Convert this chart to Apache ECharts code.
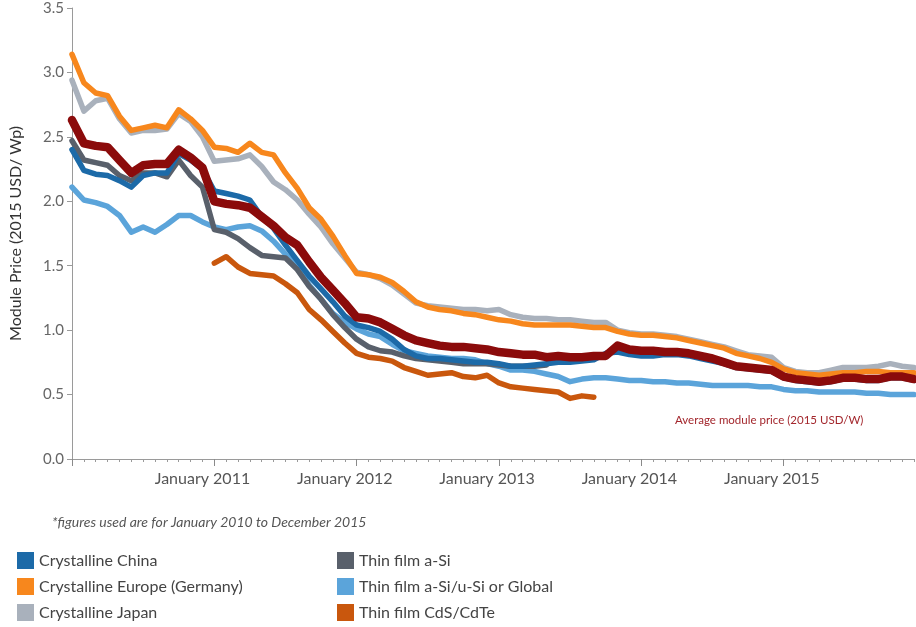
<!DOCTYPE html>
<html>
<head>
<meta charset="utf-8">
<script src="https://cdn.jsdelivr.net/npm/echarts@6/dist/echarts.min.js"></script>
<style>
  html, body { margin: 0; padding: 0; background: #fff; }
  #chart { width: 916px; height: 627px; }
</style>
</head>
<body>
<div id="chart"></div>
<script>
// months Jan 2010 .. Dec 2015
const years = [2010, 2011, 2012, 2013, 2014, 2015];
const months = [];
years.forEach((y) => {
  for (let m = 1; m <= 12; m++) months.push(y + "-" + (m < 10 ? "0" + m : m));
});

const china = [2.40, 2.24, 2.21, 2.20, 2.16, 2.11, 2.20, 2.22, 2.22, 2.37, 2.32, 2.25,
  2.08, 2.06, 2.04, 2.01, 1.88, 1.79, 1.66, 1.54, 1.42, 1.32, 1.22, 1.11,
  1.04, 1.02, 0.99, 0.93, 0.85, 0.80, 0.78, 0.78, 0.77, 0.76, 0.75, 0.75,
  0.74, 0.72, 0.72, 0.73, 0.74, 0.75, 0.75, 0.76, 0.77, 0.82, 0.83, 0.81,
  0.80, 0.80, 0.81, 0.81, 0.80, 0.78, 0.76, 0.74, 0.71, 0.70, 0.69, 0.68,
  0.63, 0.61, 0.60, 0.59, 0.60, 0.62, 0.62, 0.61, 0.61, 0.63, 0.63, 0.61];

const europe = [3.14, 2.92, 2.84, 2.82, 2.66, 2.55, 2.57, 2.59, 2.57, 2.71, 2.64, 2.55,
  2.42, 2.41, 2.38, 2.45, 2.38, 2.36, 2.22, 2.10, 1.95, 1.86, 1.73, 1.58,
  1.44, 1.43, 1.41, 1.37, 1.30, 1.22, 1.18, 1.16, 1.15, 1.13, 1.12, 1.10,
  1.08, 1.07, 1.05, 1.04, 1.04, 1.04, 1.04, 1.03, 1.02, 1.02, 0.99, 0.97,
  0.96, 0.96, 0.95, 0.94, 0.92, 0.90, 0.88, 0.86, 0.82, 0.80, 0.78, 0.75,
  0.70, 0.67, 0.66, 0.65, 0.66, 0.67, 0.67, 0.68, 0.68, 0.67, 0.67, 0.67];

const japan = [2.94, 2.70, 2.78, 2.80, 2.64, 2.53, 2.55, 2.55, 2.56, 2.68, 2.62, 2.50,
  2.31, 2.32, 2.33, 2.36, 2.27, 2.15, 2.09, 2.01, 1.90, 1.80, 1.67, 1.56,
  1.45, 1.43, 1.40, 1.35, 1.28, 1.21, 1.19, 1.18, 1.17, 1.16, 1.16, 1.15,
  1.16, 1.12, 1.10, 1.09, 1.09, 1.08, 1.08, 1.07, 1.06, 1.06, 1.00, 0.98,
  0.97, 0.97, 0.96, 0.95, 0.93, 0.91, 0.89, 0.87, 0.84, 0.81, 0.80, 0.79,
  0.71, 0.68, 0.67, 0.67, 0.69, 0.71, 0.71, 0.71, 0.72, 0.74, 0.72, 0.71];

const aSi = [2.47, 2.32, 2.30, 2.28, 2.20, 2.16, 2.22, 2.22, 2.19, 2.32, 2.20, 2.11,
  1.78, 1.76, 1.71, 1.64, 1.58, 1.57, 1.56, 1.47, 1.34, 1.24, 1.12, 1.02,
  0.93, 0.87, 0.84, 0.83, 0.80, 0.78, 0.77, 0.76, 0.75, 0.74, 0.74, 0.74,
  0.73, 0.72, 0.72, 0.72, 0.73, null, null, null, null, null, null, null,
  null, null, null, null, null, null, null, null, null, null, null, null,
  null, null, null, null, null, null, null, null, null, null, null, null];

const global = [2.11, 2.01, 1.99, 1.96, 1.89, 1.76, 1.80, 1.76, 1.82, 1.89, 1.89, 1.84,
  1.80, 1.78, 1.80, 1.81, 1.77, 1.69, 1.59, 1.49, 1.35, 1.24, 1.13, 1.06,
  1.01, 0.97, 0.95, 0.89, 0.84, 0.82, 0.80, 0.79, 0.78, 0.78, 0.77, 0.74,
  0.72, 0.69, 0.69, 0.68, 0.66, 0.64, 0.60, 0.62, 0.63, 0.63, 0.62, 0.61,
  0.61, 0.60, 0.60, 0.59, 0.59, 0.58, 0.57, 0.57, 0.57, 0.57, 0.56, 0.56,
  0.54, 0.53, 0.53, 0.52, 0.52, 0.52, 0.52, 0.51, 0.51, 0.50, 0.50, 0.50];

const cdte = [null, null, null, null, null, null, null, null, null, null, null, null,
  1.52, 1.57, 1.49, 1.44, 1.43, 1.42, 1.36, 1.29, 1.16, 1.08, 0.99, 0.90,
  0.82, 0.79, 0.78, 0.76, 0.71, 0.68, 0.65, 0.66, 0.67, 0.64, 0.63, 0.65,
  0.59, 0.56, 0.55, 0.54, 0.53, 0.52, 0.47, 0.49, 0.48, null, null, null,
  null, null, null, null, null, null, null, null, null, null, null, null,
  null, null, null, null, null, null, null, null, null, null, null, null];

const average = [2.63, 2.45, 2.43, 2.42, 2.32, 2.22, 2.28, 2.29, 2.29, 2.40, 2.34, 2.26,
  2.00, 1.98, 1.97, 1.95, 1.88, 1.81, 1.72, 1.66, 1.53, 1.41, 1.31, 1.21,
  1.10, 1.09, 1.06, 1.01, 0.96, 0.92, 0.90, 0.88, 0.87, 0.87, 0.86, 0.85,
  0.83, 0.82, 0.81, 0.81, 0.79, 0.80, 0.79, 0.79, 0.80, 0.80, 0.88, 0.85,
  0.84, 0.84, 0.83, 0.83, 0.82, 0.80, 0.78, 0.75, 0.72, 0.71, 0.70, 0.69,
  0.64, 0.62, 0.61, 0.60, 0.61, 0.63, 0.63, 0.62, 0.62, 0.64, 0.64, 0.62];

const FONT = "Lato, 'Open Sans', sans-serif";

const chart = echarts.init(document.getElementById("chart"));

const line = (name, data, color, width, z) => ({
  name: name,
  type: "line",
  data: data,
  symbol: "none",
  connectNulls: false,
  z: z,
  lineStyle: { color: color, width: width, join: "round", cap: "round" },
  itemStyle: { color: color },
});

const legendText = { color: "#444", fontSize: 16, fontFamily: FONT };

const option = {
  animation: false,
  textStyle: { fontFamily: FONT },
  grid: { left: 68, right: 2, top: 8, bottom: 168, containLabel: false },
  xAxis: [
    {
      type: "category",
      data: months,
      boundaryGap: false,
      axisLine: { lineStyle: { color: "#9a9a9a", width: 1 } },
      axisTick: { interval: 0, length: 3, lineStyle: { color: "#9a9a9a" } },
      axisLabel: { show: false },
    },
    {
      // year ticks at January, labels drawn a touch left of them as in the source
      type: "category",
      data: months,
      boundaryGap: false,
      position: "bottom",
      axisLine: { show: false },
      axisTick: {
        interval: (i) => i % 12 === 0,
        length: 7,
        lineStyle: { color: "#8a8a8a" },
      },
      axisLabel: {
        interval: (i) => i % 12 === 11 && i < 71,
        formatter: (v) => "January " + (parseInt(v.slice(0, 4), 10) + 1),
        color: "#555",
        fontSize: 16,
        margin: 12,
        fontFamily: FONT,
      },
    },
  ],
  yAxis: {
    type: "value",
    min: 0,
    max: 3.5,
    interval: 0.5,
    name: "Module Price (2015 USD/ Wp)",
    nameLocation: "middle",
    nameGap: 48,
    nameTextStyle: { color: "#333", fontSize: 16, fontFamily: FONT },
    axisLine: { show: true, lineStyle: { color: "#9a9a9a" } },
    axisTick: { show: true, length: 5, lineStyle: { color: "#9a9a9a" } },
    axisLabel: {
      formatter: (v) => v.toFixed(1),
      color: "#666",
      fontSize: 15,
      margin: 8,
      fontFamily: FONT,
    },
    splitLine: { show: false },
  },
  legend: [
    {
      data: ["Crystalline China", "Crystalline Europe (Germany)", "Crystalline Japan"],
      orient: "vertical",
      left: 12,
      top: 547,
      icon: "rect",
      itemWidth: 17,
      itemHeight: 17,
      itemGap: 9,
      textStyle: legendText,
    },
    {
      data: ["Thin film a-Si", "Thin film a-Si/u-Si or Global", "Thin film CdS/CdTe"],
      orient: "vertical",
      left: 332,
      top: 547,
      icon: "rect",
      itemWidth: 17,
      itemHeight: 17,
      itemGap: 9,
      textStyle: legendText,
    },
  ],
  graphic: [
    {
      type: "text",
      left: 52,
      top: 515,
      style: {
        text: "*figures used are for January 2010 to December 2015",
        fill: "#555",
        font: "italic 14px " + FONT,
      },
    },
    {
      type: "text",
      left: 675,
      top: 414,
      style: {
        text: "Average module price (2015 USD/W)",
        fill: "#a3272d",
        font: "11.5px " + FONT,
      },
    },
  ],
  series: [
    line("Crystalline Japan", japan, "#a9b1bc", 5.5, 2),
    line("Crystalline Europe (Germany)", europe, "#f7871d", 5.5, 3),
    line("Thin film a-Si/u-Si or Global", global, "#5ba4da", 5.5, 2),
    line("Thin film a-Si", aSi, "#59606b", 5.5, 3),
    line("Crystalline China", china, "#1c6aa8", 5.5, 4),
    line("Thin film CdS/CdTe", cdte, "#c9570d", 5.5, 3),
    line("Average module price", average, "#8b0b0b", 8.5, 5),
  ],
};

chart.setOption(option);
</script>
</body>
</html>
